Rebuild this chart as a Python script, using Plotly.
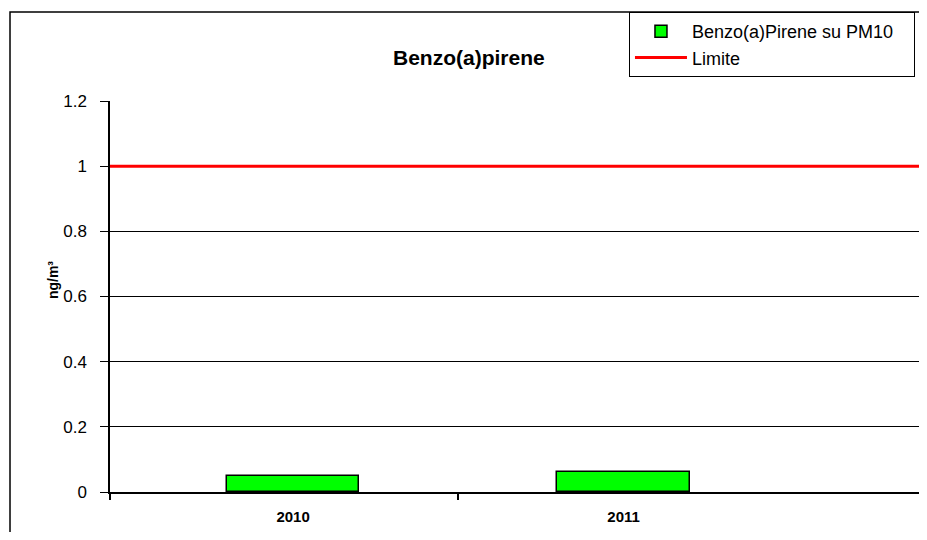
import plotly.graph_objects as go

years = ["2010", "2011"]
bap_values = [0.048, 0.061]
limit_value = 1.0
y_ticks = [0, 0.2, 0.4, 0.6, 0.8, 1.0, 1.2]
y_tick_labels = ["0", "0.2", "0.4", "0.6", "0.8", "1", "1.2"]

xpos = list(range(len(years)))
x_range = [-0.554, 1.894]

fig = go.Figure()
fig.add_trace(go.Bar(
    x=xpos, y=bap_values, width=0.4,
    name="Benzo(a)Pirene su PM10" + "&nbsp;" * 3,
    marker=dict(color="#00FF00", line=dict(color="black", width=1.5)),
    legendgroup="a",
))
fig.add_trace(go.Scatter(
    x=x_range, y=[limit_value, limit_value], mode="lines", name="Limite",
    line=dict(color="#FF0000", width=3), legendgroup="b",
))

font = "Arial, Liberation Sans, sans-serif"
fig.update_layout(
    width=911, height=524,
    margin=dict(l=102, r=0, t=93, b=40, autoexpand=False),
    paper_bgcolor="white", plot_bgcolor="white",
    font=dict(family=font, size=16, color="black"),
    showlegend=True,
    legend=dict(x=0.6415, y=1.2276, xanchor="left", yanchor="top",
                bordercolor="black", borderwidth=1, bgcolor="white",
                font=dict(size=18), traceorder="grouped", tracegroupgap=0,
                itemwidth=52),
    xaxis=dict(range=x_range, tickvals=xpos,
               ticktext=["<b>%s</b>" % y for y in years],
               tickfont=dict(size=15), ticks="", showgrid=False,
               showline=True, linecolor="black", linewidth=1.5,
               ticklabelstandoff=10,
               minor=dict(tickvals=[x_range[0], 0.5], ticks="outside",
                          ticklen=6, tickcolor="black", tickwidth=1.5)),
    yaxis=dict(range=[0, 1.2], tickvals=y_ticks, ticktext=y_tick_labels,
               showgrid=True, gridcolor="black", gridwidth=1,
               zeroline=False, showline=True, linecolor="black", linewidth=1.5,
               ticks="outside", ticklen=8, tickcolor="black",
               ticklabelstandoff=10, tickfont=dict(size=17)),
    bargap=0,
)
fig.add_annotation(text="<b>Benzo(a)pirene</b>", x=0.4438, y=1.1458,
                   xref="paper", yref="paper", showarrow=False,
                   font=dict(size=21, family=font))
fig.add_annotation(text="<b>ng/m³</b>", x=-0.0828, y=0.542, xref="paper",
                   yref="paper", showarrow=False, textangle=-90,
                   font=dict(size=14, family=font))
fig.add_shape(type="rect", xref="paper", yref="paper", x0=-0.1236, x1=1.05,
              y0=-0.2, y1=1.2276, line=dict(color="black", width=1.5),
              layer="below")
fig.write_html("out.html")
